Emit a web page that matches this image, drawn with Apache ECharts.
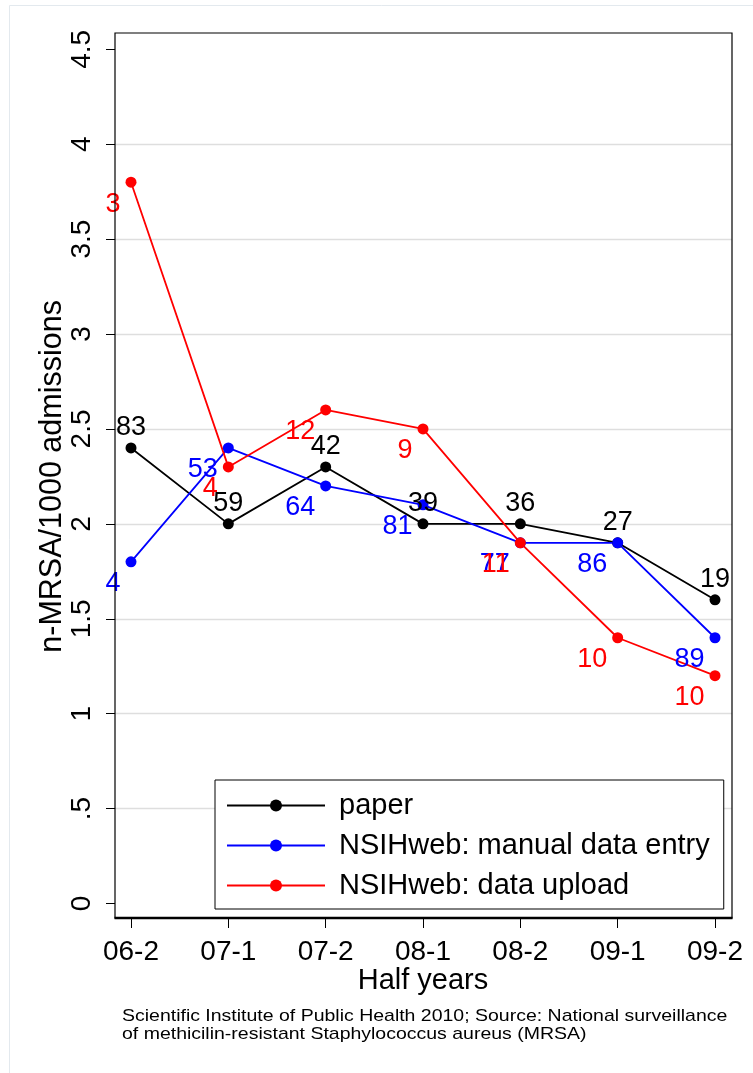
<!DOCTYPE html>
<html>
<head>
<meta charset="utf-8">
<script src="https://cdn.jsdelivr.net/npm/echarts@6/dist/echarts.min.js"></script>
<style>
  html, body { margin: 0; padding: 0; background: #ffffff; }
  #chart { width: 753px; height: 1073px; }
</style>
</head>
<body>
<div id="chart"></div>
<script>
// Half-year periods on the x axis
const categories = ['06-2', '07-1', '07-2', '08-1', '08-2', '09-1', '09-2'];

// MRSA incidence per 1000 admissions, by reporting channel
const paperRate  = [2.4, 2.0, 2.3, 2.0, 2.0, 1.9, 1.6];
const manualRate = [1.8, 2.4, 2.2, 2.1, 1.9, 1.9, 1.4];
const uploadRate = [3.8, 2.3, 2.6, 2.5, 1.9, 1.4, 1.2];

// Number of participating hospitals shown next to each point
const paperHosp  = [83, 59, 42, 39, 36, 27, 19];
const manualHosp = [4, 53, 64, 81, 77, 86, 89];
const uploadHosp = [3, 4, 12, 9, 11, 10, 10];

// Y axis ticks
const yTicks = [0, 0.5, 1, 1.5, 2, 2.5, 3, 3.5, 4, 4.5];

const seriesNames = ['paper', 'NSIHweb: manual data entry', 'NSIHweb: data upload'];
const FONT = "'Liberation Sans', Arial, Helvetica, sans-serif";

function yLabel(v) {
  const s = String(v);
  return s.startsWith('0.') ? s.slice(1) : s;
}

const chart = echarts.init(document.getElementById('chart'), null, { renderer: 'canvas' });

function lineSeries(name, color, rate, hosp, labelCfg) {
  return {
    name: name,
    type: 'line',
    xAxisIndex: 0,
    yAxisIndex: 0,
    data: rate,
    symbol: 'circle',
    symbolSize: 11,
    showAllSymbol: true,
    lineStyle: { color: color, width: 1.8 },
    itemStyle: { color: color },
    label: Object.assign({
      show: true,
      color: color,
      fontFamily: FONT,
      fontSize: 27,
      formatter: p => String(hosp[p.dataIndex])
    }, labelCfg),
    emphasis: { disabled: true }
  };
}

const yMin = yTicks[0];
const yMax = yTicks[yTicks.length - 1];

const option = {
  animation: false,
  backgroundColor: '#ffffff',
  textStyle: { fontFamily: FONT },
  grid: [
    // 0: data area
    { left: 131, right: 38, top: 49.3, bottom: 169.5 },
    // 1: frame width, same value range: y ticks, labels, title and grid lines
    { left: 115, right: 21, top: 49.3, bottom: 169.5 },
    // 2: category ticks and labels along the frame bottom
    { left: 131, right: 38, top: 33, bottom: 155 }
  ],
  xAxis: [
    {
      type: 'category', gridIndex: 0, data: categories, boundaryGap: false, show: false
    },
    {
      type: 'value', gridIndex: 1, min: 0, max: 1, show: false
    },
    {
      type: 'category',
      gridIndex: 2,
      data: categories,
      boundaryGap: false,
      axisLine: { show: false },
      axisTick: { show: true, length: 10, lineStyle: { color: '#000', width: 1 } },
      axisLabel: { color: '#000', fontSize: 28, margin: 20, fontFamily: FONT },
      splitLine: { show: false },
      name: 'Half years',
      nameLocation: 'middle',
      nameGap: 48,
      nameMoveOverlap: false,
      nameTextStyle: { color: '#000', fontSize: 29, fontFamily: FONT }
    }
  ],
  yAxis: [
    {
      type: 'value', gridIndex: 0, min: yMin, max: yMax, interval: 0.5, show: false
    },
    {
      type: 'value',
      gridIndex: 1,
      min: yMin,
      max: yMax,
      interval: 0.5,
      axisLine: { show: false },
      axisTick: { show: true, length: 9, lineStyle: { color: '#000', width: 1 } },
      axisLabel: {
        color: '#000', fontSize: 28, rotate: 90, margin: 19, fontFamily: FONT,
        formatter: yLabel
      },
      splitLine: {
        show: true,
        showMinLine: false,
        showMaxLine: false,
        lineStyle: { color: '#dedede', width: 1.4 }
      },
      name: 'n-MRSA/1000 admissions',
      nameLocation: 'middle',
      nameGap: 47,
      nameMoveOverlap: false,
      nameTextStyle: { color: '#000', fontSize: 30.5, fontFamily: FONT }
    },
    {
      type: 'value', gridIndex: 2, min: 0, max: 1, show: false
    }
  ],
  legend: {
    orient: 'vertical',
    left: 215,
    top: 780,
    padding: [10, 14, 8, 11],
    itemWidth: 98,
    itemHeight: 15,
    itemGap: 9,
    backgroundColor: '#ffffff',
    borderColor: '#000000',
    borderWidth: 1,
    selectedMode: false,
    data: seriesNames,
    textStyle: { color: '#000', fontSize: 29, fontFamily: FONT, padding: [0, 0, 0, 9], lineHeight: 31 }
  },
  series: [
    lineSeries(seriesNames[0], '#000000', paperRate, paperHosp, { position: 'top', distance: 1 }),
    lineSeries(seriesNames[1], '#0000ff', manualRate, manualHosp, { position: 'left', distance: 5, offset: [0, 22] }),
    lineSeries(seriesNames[2], '#ff0000', uploadRate, uploadHosp, { position: 'left', distance: 5, offset: [0, 22] })
  ],
  graphic: [
    // faint outer border of the graph region
    {
      type: 'rect', z: 0, silent: true,
      shape: { x: 9.5, y: 5.5, width: 800, height: 1100 },
      style: { fill: null, stroke: '#e3e9ee', lineWidth: 1 }
    },
    // plot region frame
    {
      type: 'rect', z: 10, silent: true,
      shape: { x: 115, y: 33, width: 617, height: 885 },
      style: { fill: null, stroke: '#000000', lineWidth: 1.2 }
    },
    {
      type: 'line', z: 10, silent: true,
      shape: { x1: 114.5, y1: 918, x2: 732.5, y2: 918 },
      style: { stroke: '#000000', lineWidth: 2.4 }
    },
    // source note
    {
      type: 'text', z: 10, silent: true,
      x: 122, y: 1007, scaleX: 1.146, scaleY: 1,
      style: {
        text: 'Scientific Institute of Public Health 2010; Source: National surveillance\nof methicilin-resistant Staphylococcus aureus (MRSA)',
        font: "17px 'Liberation Sans', Arial, sans-serif",
        fill: '#000000',
        lineHeight: 18,
        textAlign: 'left',
        textVerticalAlign: 'top'
      }
    }
  ]
};

chart.setOption(option);
</script>
</body>
</html>
